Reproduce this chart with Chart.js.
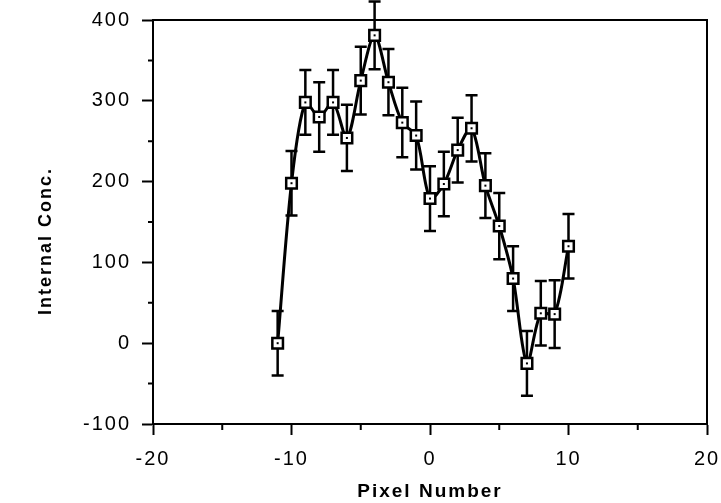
<!DOCTYPE html>
<html>
<head>
<meta charset="utf-8">
<script src="https://cdn.jsdelivr.net/npm/chart.js@4.4.0/dist/chart.umd.min.js"></script>
<style>
  html, body { margin: 0; padding: 0; background: #fff; }
  #wrap { width: 721px; height: 503px; }
</style>
</head>
<body>
<div id="wrap"><canvas id="chart" width="721" height="503"></canvas></div>
<script>
// values
const pixelNumber = [-11, -10, -9, -8, -7, -6, -5, -4, -3, -2, -1, 0, 1, 2, 3, 4, 5, 6, 7, 8, 9, 10];
const internalConc = [0, 198, 298, 280, 298, 254, 325, 381, 323, 273, 257, 179, 197, 239, 266, 195, 145, 80, -25, 37, 36, 120];
const concError = [40, 40, 40, 43, 40, 41, 42, 42, 41, 43, 42, 40, 40, 40, 41, 40, 41, 40, 40, 40, 42, 40];
const xTicks = [-20, -10, 0, 10, 20];
const xMinorTicks = [-15, -5, 5, 15];
const yTicks = [-100, 0, 100, 200, 300, 400];
const yMinorTicks = [-50, 50, 150, 250, 350];

const FONT = "'Liberation Sans', Arial, Helvetica, sans-serif";

// canvas resets on resize, so set spacing before layout and draw
const spacingPlugin = {
    id: 'spacing',
    beforeLayout(chart) { chart.ctx.letterSpacing = '2px'; },
    beforeDraw(chart) { chart.ctx.letterSpacing = '2px'; }
};

const errorBarPlugin = {
    id: 'errorBars',
    beforeDatasetsDraw(chart) {
        const ctx = chart.ctx;
        const xs = chart.scales.x;
        const ys = chart.scales.y;
        ctx.save();
        ctx.strokeStyle = '#000';
        ctx.lineWidth = 2.5;
        pixelNumber.forEach((px, i) => {
            const x = xs.getPixelForValue(px);
            const top = ys.getPixelForValue(internalConc[i] + concError[i]);
            const bot = ys.getPixelForValue(internalConc[i] - concError[i]);
            ctx.beginPath();
            ctx.moveTo(x, top);
            ctx.lineTo(x, bot);
            ctx.moveTo(x - 6, top);
            ctx.lineTo(x + 6, top);
            ctx.moveTo(x - 6, bot);
            ctx.lineTo(x + 6, bot);
            ctx.stroke();
        });
        ctx.restore();
    },
    afterDatasetsDraw(chart) {
        // little dot inside each square marker
        const ctx = chart.ctx;
        const meta = chart.getDatasetMeta(0);
        ctx.save();
        ctx.fillStyle = '#000';
        meta.data.forEach(pt => {
            ctx.fillRect(pt.x - 1, pt.y - 1, 2, 2);
        });
        ctx.restore();
    }
};

const framePlugin = {
    id: 'frame',
    afterDraw(chart) {
        const ctx = chart.ctx;
        const a = chart.chartArea;
        const xs = chart.scales.x;
        const ys = chart.scales.y;
        ctx.save();
        ctx.strokeStyle = '#000';
        ctx.lineWidth = 2;
        ctx.strokeRect(a.left, a.top, a.right - a.left, a.bottom - a.top);
        // minor ticks
        ctx.beginPath();
        xMinorTicks.forEach(v => {
            const x = xs.getPixelForValue(v);
            ctx.moveTo(x, a.bottom);
            ctx.lineTo(x, a.bottom + 6);
        });
        yMinorTicks.forEach(v => {
            const y = ys.getPixelForValue(v);
            ctx.moveTo(a.left, y);
            ctx.lineTo(a.left - 5, y);
        });
        ctx.stroke();
        // y axis title
        ctx.letterSpacing = '2px';
        ctx.fillStyle = '#000';
        ctx.font = 'bold 18px ' + FONT;
        ctx.textAlign = 'center';
        ctx.textBaseline = 'middle';
        ctx.translate(46, 241);
        ctx.rotate(-Math.PI / 2);
        ctx.fillText('Internal Conc.', 0, 0);
        ctx.restore();
    }
};

const ctx = document.getElementById('chart').getContext('2d');
new Chart(ctx, {
    type: 'line',
    data: {
        datasets: [{
            data: pixelNumber.map((x, i) => ({ x: x, y: internalConc[i] })),
            borderColor: '#000',
            borderWidth: 3,
            tension: 0.3,
            pointStyle: 'rect',
            pointRadius: 7.5,
            pointBackgroundColor: '#fff',
            pointBorderColor: '#000',
            pointBorderWidth: 2.5,
            clip: false
        }]
    },
    options: {
        responsive: false,
        animation: false,
        events: [],
        layout: {
            autoPadding: false,
            padding: { left: 0, right: 14, top: 20, bottom: 0 }
        },
        plugins: {
            legend: { display: false },
            tooltip: { enabled: false }
        },
        scales: {
            x: {
                type: 'linear',
                min: -20,
                max: 20,
                afterBuildTicks(scale) {
                    scale.ticks = xTicks.map(v => ({ value: v }));
                },
                afterFit(scale) {
                    scale.height = 79;
                    scale.paddingLeft = 0;
                    scale.paddingRight = 0;
                },
                ticks: {
                    autoSkip: false,
                    maxRotation: 0,
                    color: '#000',
                    padding: 12,
                    font: { family: FONT, size: 20 }
                },
                grid: {
                    display: true,
                    drawOnChartArea: false,
                    tickLength: 11,
                    tickWidth: 2,
                    tickColor: '#000'
                },
                border: { display: true, color: '#000', width: 2 },
                title: {
                    display: true,
                    text: 'Pixel Number',
                    color: '#000',
                    padding: { top: 0, bottom: 0 },
                    font: { family: FONT, size: 19, weight: 'bold' }
                }
            },
            y: {
                type: 'linear',
                min: -100,
                max: 400,
                afterBuildTicks(scale) {
                    scale.ticks = yTicks.map(v => ({ value: v }));
                },
                afterFit(scale) {
                    scale.width = 153;
                    scale.paddingTop = 0;
                    scale.paddingBottom = 0;
                },
                ticks: {
                    autoSkip: false,
                    color: '#000',
                    padding: 11,
                    font: { family: FONT, size: 20 }
                },
                grid: {
                    display: true,
                    drawOnChartArea: false,
                    tickLength: 11,
                    tickWidth: 2,
                    tickColor: '#000'
                },
                border: { display: true, color: '#000', width: 2 }
            }
        }
    },
    plugins: [spacingPlugin, errorBarPlugin, framePlugin]
});
</script>
</body>
</html>
